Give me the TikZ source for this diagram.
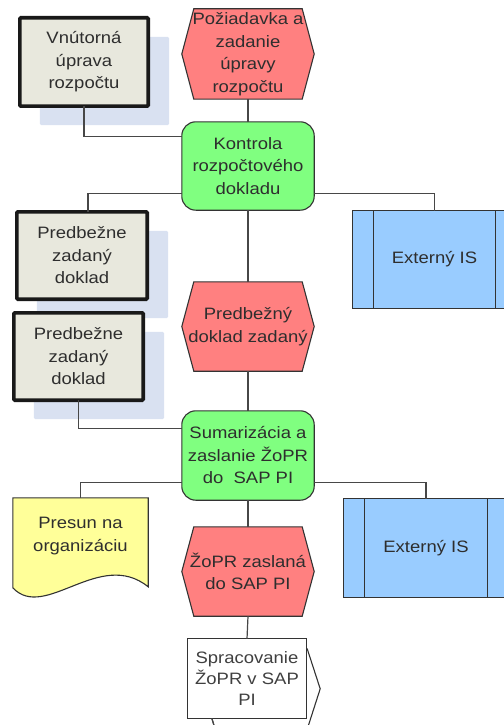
\documentclass[tikz,border=0pt]{standalone}
\usepackage{fontspec}
\setmainfont[FakeStretch=1.12]{Liberation Sans}
\usetikzlibrary{calc,backgrounds}
\definecolor{hexred}{HTML}{FF8080}
\definecolor{boxgreen}{HTML}{80FF80}
\definecolor{isblue}{HTML}{99CCFF}
\definecolor{beige}{HTML}{E8E8DD}
\definecolor{shadowblue}{HTML}{D9E1F1}
\definecolor{docyellow}{HTML}{FFFF99}
\definecolor{linegray}{HTML}{333333}
\definecolor{txtgray}{HTML}{2E2E2E}
\newcommand\hexpath[1]{($(#1.north west)+(12,0)$) -- ($(#1.north east)+(-12,0)$) -- (#1.east) -- ($(#1.south east)+(-12,0)$) -- ($(#1.south west)+(12,0)$) -- (#1.west) -- cycle}
\begin{document}
\begin{tikzpicture}[x=1bp,y=-1bp,
  lbl/.style={align=center, font=\fontsize{16.5bp}{22.5bp}\selectfont, text=txtgray, inner sep=0pt, draw=none},
  area/.style n args={2}{lbl, minimum width=#1bp, minimum height=#2bp},
  hexshape/.style={fill=hexred, draw=linegray, line width=1.1bp},
  procshape/.style={fill=boxgreen, draw=linegray, line width=1.1bp, rounded corners=14bp},
  thickbox/.style={fill=beige, draw=black!90, line width=3.6bp, rounded corners=1bp},
  shadowfill/.style={fill=shadowblue, rounded corners=1.5bp},
  isbox/.style={fill=isblue, draw=linegray, line width=1.1bp},
  docshape/.style={fill=docyellow, draw=linegray, line width=1.1bp},
  ifshape/.style={fill=white, draw=linegray, line width=1.1bp},
  conn/.style={draw=linegray!90, line width=1.2bp}]
\useasboundingbox (0,0) rectangle (504,725);

% nodes (text)
\node[area={128}{88}] (vn) at (84,62) {Vnútorná\\úprava\\rozpočtu};
\node[area={132}{90}] (h1) at (248,54) {Požiadavka a\\zadanie\\úpravy\\rozpočtu};
\node[area={132}{88}] (ko) at (248,166) {Kontrola\\rozpočtového\\dokladu};
\node[area={130}{87}] (pb1) at (82,255.5) {Predbežne\\zadaný\\doklad};
\node[area={129}{87}] (pb2) at (78.5,356.5) {Predbežne\\zadaný\\doklad};
\node[area={132}{89}] (h2) at (248,326.5) {Predbežný\\doklad zadaný};
\node[area={163}{97}] (ex1) at (434.5,259.5) {Externý IS};
\node[area={132}{89}] (su) at (248,455.5) {Sumarizácia a\\zaslanie ŽoPR\\do\ \ SAP PI};
\node[area={135}{76}] (pr) at (80.5,536) {Presun na\\organizáciu};
\node[area={132}{89}] (h3) at (248,571.5) {ŽoPR zaslaná\\do SAP PI};
\node[area={164}{98}] (ex2) at (426,548) {Externý IS};
\node[area={118}{79}, font=\fontsize{16.5bp}{21bp}\selectfont, text=black!75] (sp) at (247,678.5) {Spracovanie\\ŽoPR v SAP\\PI};
\coordinate (spout) at (216,732);

% shapes behind the texts
\begin{scope}[on background layer]
  \foreach \b in {vn,pb1,pb2}{
    \fill[shadowfill] ($(\b.north west)+(20,19)$) rectangle ($(\b.south east)+(21,19)$);
  }
  \foreach \b in {vn,pb1,pb2}{
    \path[thickbox] (\b.north west) rectangle (\b.south east);
  }
  \foreach \h in {h1,h2,h3}{
    \path[hexshape] \hexpath{\h};
  }
  \foreach \p in {ko,su}{
    \path[procshape] (\p.north west) rectangle (\p.south east);
  }
  \foreach \e in {ex1,ex2}{
    \path[isbox] (\e.north west) rectangle (\e.south east);
    \draw[linegray, line width=1.1bp] ($(\e.north west)+(21,0)$) -- ($(\e.south west)+(21,0)$);
    \draw[linegray, line width=1.1bp] ($(\e.north east)+(-21,0)$) -- ($(\e.south east)+(-21,0)$);
  }
  \path[docshape] (pr.north west) -- (pr.north east) -- ($(pr.north east)+(0,89)$)
     .. controls ($(pr.north west)+(87,50)$) and ($(pr.north west)+(32,124)$) .. ($(pr.north west)+(0,90)$) -- cycle;
  \path[ifshape] ($(sp.north west)+(3,10)$) -- ($(sp.north east)+(1,10)$) -- ($(sp.north east)+(14,50)$)
     -- ($(sp.south east)+(1,11)$) -- (spout) -- ($(sp.south west)+(24,0)$) -- cycle;
  \path[ifshape] (sp.north west) rectangle (sp.south east);
\end{scope}

% connectors
\draw[conn] (h1.south) -- (ko.north);
\draw[conn] (vn.south) |- ($(ko.north west)+(0,15)$);
\draw[conn] ($(ko.south west)+(0,-17)$) -| ($(pb1.north)+(6,0)$);
\draw[conn] ($(ko.south east)+(0,-17)$) -| (ex1.north);
\draw[conn] (ko.south) -- (h2.north);
\draw[conn] (h2.south) -- (su.north);
\draw[conn] (pb2.south) |- ($(su.north west)+(0,18)$);
\draw[conn] ($(su.south west)+(0,-18)$) -| (pr.north);
\draw[conn] ($(su.south east)+(0,-18)$) -| (ex2.north);
\draw[conn] (su.south) -- (h3.north);
\draw[conn] (h3.south) -- (sp.north);
\draw[conn] ($(sp.south west)+(24,0)$) -- (spout);
\end{tikzpicture}
\end{document}
